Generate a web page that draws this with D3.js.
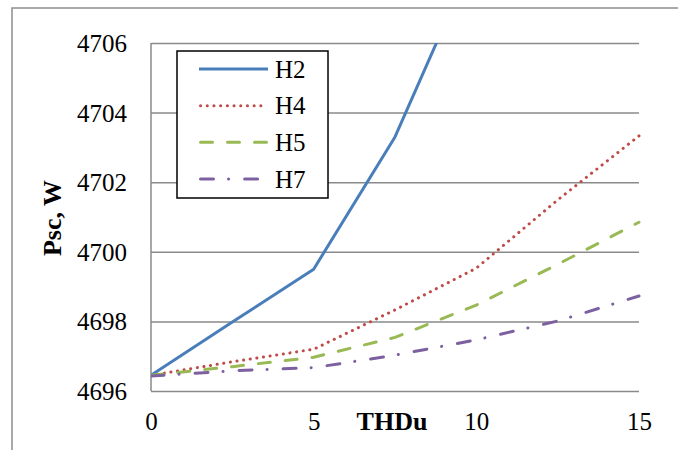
<!DOCTYPE html>
<html>
<head>
<meta charset="utf-8">
<script src="https://cdn.jsdelivr.net/npm/d3@7"></script>
<style>
  html, body { margin: 0; padding: 0; background: #fff; }
  svg { display: block; }
  text { font-family: "Liberation Serif", "Times New Roman", serif; fill: #000; }
</style>
</head>
<body>
<svg id="chart" width="678" height="450"></svg>
<script>
// THDu values (%) at which losses were computed
const thdu = [0, 2.5, 5, 7.5, 10, 12.5, 15];

// Short-circuit losses Psc (W) for each harmonic order
const seriesNames = ["H2", "H4", "H5", "H7"];
const h2 = [4696.45, 4697.98, 4699.5, 4703.3, 4708.6];
const h4 = [4696.45, 4696.84, 4697.2, 4698.33, 4699.53, 4701.49, 4703.33];
const h5 = [4696.45, 4696.7, 4696.97, 4697.54, 4698.47, 4699.64, 4700.85];
const h7 = [4696.43, 4696.58, 4696.67, 4697.03, 4697.47, 4698.01, 4698.73];

const xTicks = [0, 5, 10, 15];
const yTicks = [4696, 4698, 4700, 4702, 4704, 4706];
const xTitle = "THDu";
const yTitle = "Psc, W";

const seriesData = [h2, h4, h5, h7];
const seriesStyle = [
  { color: "#4a7ebb", dash: null,          cap: "butt"  },
  { color: "#be4b48", dash: "0.1,6.6",     cap: "round" },
  { color: "#98b954", dash: "12,15",       cap: "round" },
  { color: "#7d60a0", dash: "13,15,0.1,16", cap: "round" }
];

const svg = d3.select("#chart");

// outer chart frame
svg.append("rect")
  .attr("x", 12).attr("y", 8)
  .attr("width", 700).attr("height", 480)
  .attr("fill", "none")
  .attr("stroke", "#8d8d8d")
  .attr("stroke-width", 1.5);

const plot = { left: 151, top: 43, right: 639, bottom: 391 };
const W = plot.right - plot.left;
const H = plot.bottom - plot.top;

const x = d3.scaleLinear().domain([0, 15]).range([0, W]);
const y = d3.scaleLinear().domain([4696, 4706]).range([H, 0]);

const g = svg.append("g").attr("transform", `translate(${plot.left},${plot.top})`);

// horizontal gridlines + y labels
const yAxis = g.append("g")
  .call(d3.axisLeft(y).tickValues(yTicks).tickSize(-W).tickPadding(24).tickFormat(d3.format("d")));
yAxis.select(".domain").remove();
yAxis.selectAll(".tick line").attr("stroke", "#8a8a8a").attr("stroke-width", 1.5);
yAxis.selectAll(".tick text")
  .style("font-family", "'Liberation Serif', serif")
  .style("font-size", "25px")
  .attr("fill", "#000")
  .attr("dy", "0.34em");

// x axis labels
const xAxis = g.append("g")
  .attr("transform", `translate(0,${H})`)
  .call(d3.axisBottom(x).tickValues(xTicks).tickSize(0).tickPadding(0).tickFormat(d3.format("d")));
xAxis.select(".domain").remove();
xAxis.selectAll(".tick text")
  .style("font-family", "'Liberation Serif', serif")
  .style("font-size", "25px")
  .attr("fill", "#000")
  .attr("dy", null)
  .attr("y", 39);

// vertical axis line
g.append("line")
  .attr("x1", 0).attr("x2", 0).attr("y1", 0).attr("y2", H)
  .attr("stroke", "#8a8a8a").attr("stroke-width", 1.5);

// axis titles
svg.append("text")
  .attr("x", 392).attr("y", 430)
  .attr("text-anchor", "middle")
  .style("font-size", "26px").style("font-weight", "bold")
  .text(xTitle);

svg.append("text")
  .attr("transform", "translate(61,218) rotate(-90)")
  .attr("text-anchor", "middle")
  .style("font-size", "26px").style("font-weight", "bold")
  .text(yTitle);

// clip series to the plot area
svg.append("defs").append("clipPath").attr("id", "plotClip")
  .append("rect").attr("x", 0).attr("y", 0).attr("width", W + 4).attr("height", H);

const line = d3.line()
  .x((d, i) => x(thdu[i]))
  .y(d => y(d));

const lines = g.append("g").attr("clip-path", "url(#plotClip)");
seriesData.forEach((vals, k) => {
  const st = seriesStyle[k];
  lines.append("path")
    .datum(vals)
    .attr("d", line)
    .attr("fill", "none")
    .attr("stroke", st.color)
    .attr("stroke-width", 3)
    .attr("stroke-linecap", st.cap)
    .attr("stroke-linejoin", "round")
    .attr("stroke-dasharray", st.dash);
});

// legend
const lg = svg.append("g");
lg.append("rect")
  .attr("x", 177).attr("y", 51).attr("width", 151).attr("height", 147)
  .attr("fill", "#fff").attr("stroke", "#000").attr("stroke-width", 1.5);

const rowY = d3.scalePoint().domain(seriesNames).range([69, 179]);
seriesNames.forEach((name, k) => {
  const st = seriesStyle[k];
  const yy = rowY(name);
  lg.append("line")
    .attr("x1", st.cap === "round" ? 200.5 : 199).attr("x2", st.cap === "round" ? 266.5 : 268)
    .attr("y1", yy).attr("y2", yy)
    .attr("stroke", st.color).attr("stroke-width", 3)
    .attr("stroke-linecap", st.cap)
    .attr("stroke-dasharray", st.dash);
  lg.append("text")
    .attr("x", 275).attr("y", yy)
    .attr("dy", "0.34em")
    .style("font-size", "25px")
    .text(name);
});
</script>
</body>
</html>
